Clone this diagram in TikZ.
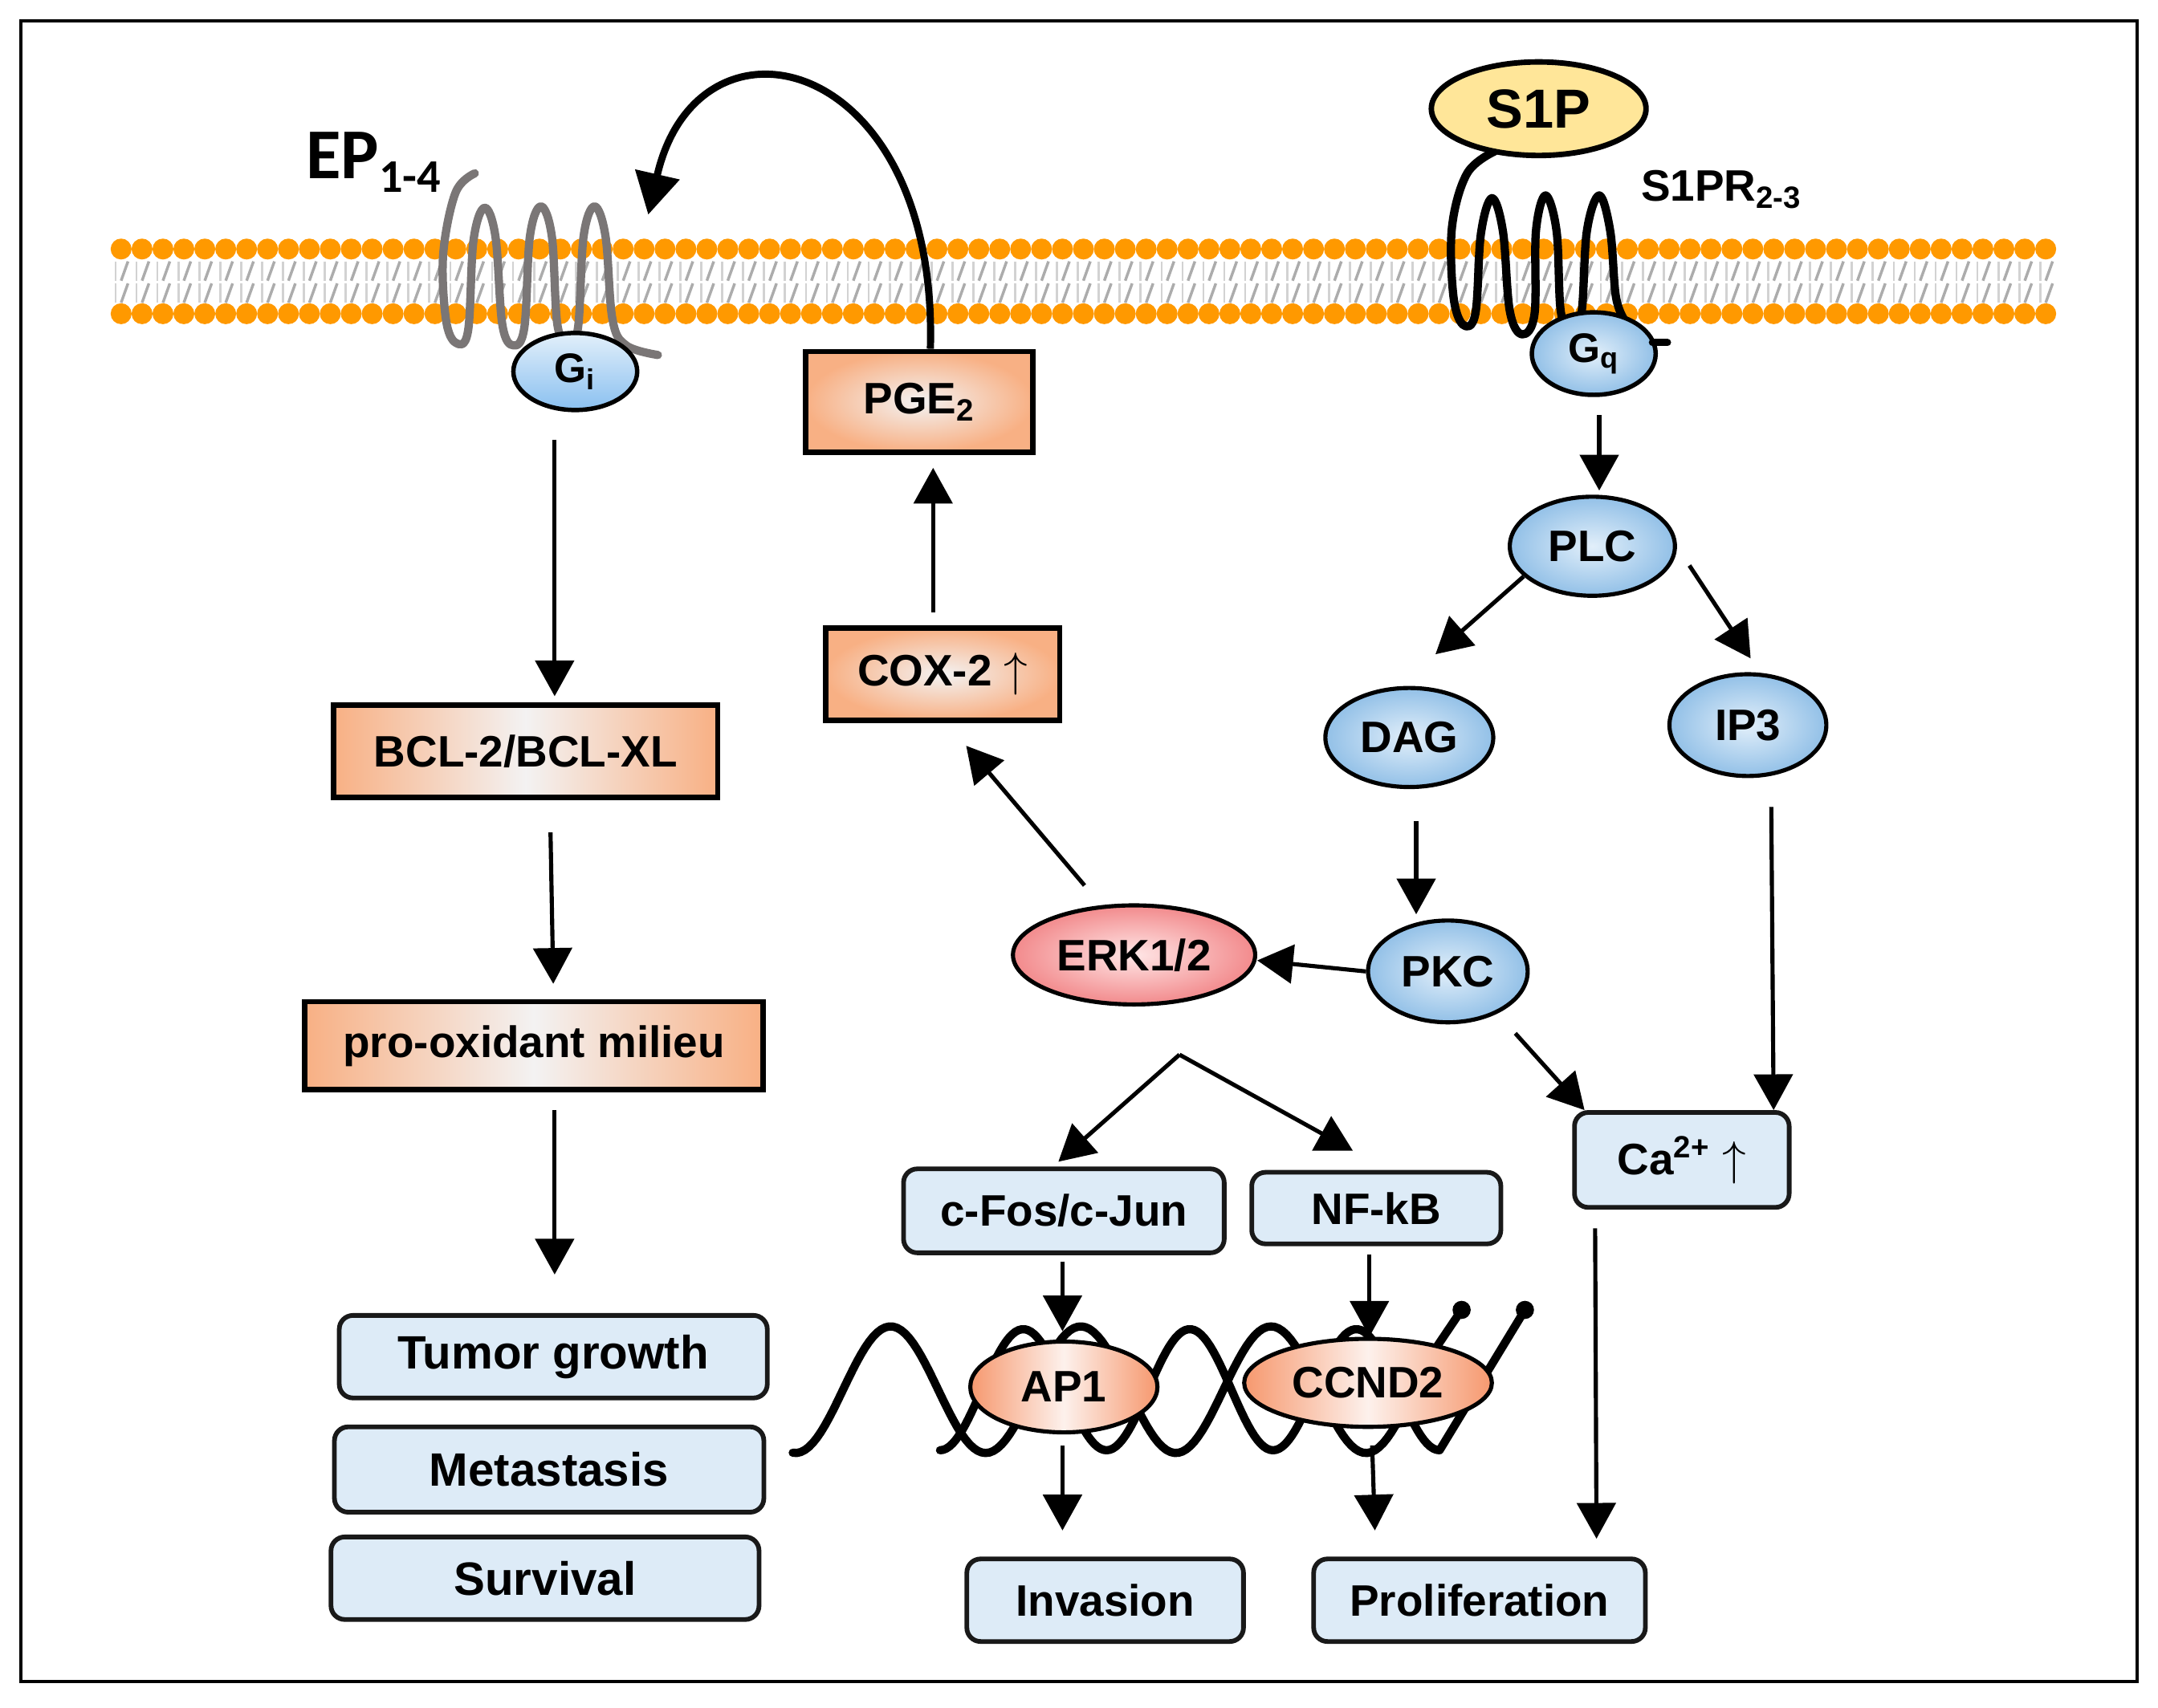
\documentclass[tikz,border=0pt]{standalone}
\usepackage{fontspec}
\setmainfont{Liberation Sans}
\newfontfamily\calibrifont{Carlito}
\usetikzlibrary{calc,arrows.meta,shapes.geometric}

\definecolor{memorange}{RGB}{255,153,0}
\definecolor{boxorange}{RGB}{248,176,132}
\definecolor{boxmid}{RGB}{243,242,242}
\definecolor{cellblue}{RGB}{221,235,247}
\definecolor{ovalblue}{RGB}{146,192,231}
\definecolor{ovalpale}{RGB}{226,239,250}
\definecolor{gpblue}{RGB}{138,192,240}
\definecolor{erkred}{RGB}{242,138,140}
\definecolor{erkpale}{RGB}{255,230,230}
\definecolor{geneorange}{RGB}{246,152,110}
\definecolor{genepale}{RGB}{253,241,236}
\definecolor{s1pyellow}{RGB}{255,230,153}
\definecolor{epgray}{RGB}{122,118,118}

\tikzset{
	arr/.style={line width=1.5pt, -{Triangle[length=13pt, width=14pt]}},
	bigarr/.style={line width=2.6pt, -{Triangle[length=15pt, width=16pt]}},
	labeltext/.style={font=\bfseries\fontsize{16}{19}\selectfont},
	orangebox/.style={labeltext, rectangle, draw=black, line width=2pt, inner sep=0pt, left color=boxorange, right color=boxorange, middle color=boxmid},
	orangeglow/.style={labeltext, rectangle, draw=black, line width=2pt, inner sep=0pt, inner color=boxmid, outer color=boxorange},
	bluebox/.style={labeltext, rectangle, rounded corners=5pt, draw=black!90, line width=1.7pt, inner sep=0pt, fill=cellblue},
	blueoval/.style={labeltext, ellipse, draw=black, line width=1.5pt, inner sep=0pt, inner color=ovalpale, outer color=ovalblue},
	redoval/.style={labeltext, ellipse, draw=black, line width=1.5pt, inner sep=0pt, inner color=erkpale, outer color=erkred},
	geneoval/.style={labeltext, ellipse, draw=black, line width=1.5pt, inner sep=0pt, left color=geneorange, right color=geneorange, middle color=genepale},
	gprot/.style={ellipse, draw=black, line width=1.6pt, inner sep=0pt, font=\bfseries\fontsize{15}{17}\selectfont},
	lipidlight/.style={gray!35, line width=0.8pt},
	lipiddark/.style={gray!65, line width=1pt},
	receptor/.style={line width=3pt, line cap=round, line join=round},
	dna/.style={line width=3pt, line cap=round, line join=round},
}

\begin{document}
\begin{tikzpicture}[x=0.5pt, y=-0.5pt]
		%%%%% FRAME %%%%%
		\useasboundingbox (0,0) rectangle (1568,1241);
		\fill[white] (0,0) rectangle (1568,1241);
		\draw[line width=1.2pt] (15,15) rectangle (1553,1222);
		
		%%%%% MEMBRANE %%%%%
		\foreach \i in {0,...,92}{
			\pgfmathsetmacro{\mx}{88+15.2*\i}
			\draw[lipidlight] (\mx-4,190) -- (\mx-4,204);
			\draw[lipiddark] (\mx+5,190) -- (\mx,204);
			\draw[lipidlight] (\mx-4,206) -- (\mx-4,220);
			\draw[lipiddark] (\mx+5,206) -- (\mx,220);
			\fill[memorange] (\mx,181) circle (3.8pt);
			\fill[memorange] (\mx,228) circle (3.8pt);
		}
		
		%%%%% RECEPTORS %%%%%
		\draw[receptor, draw=epgray] plot[smooth, tension=0.6] coordinates {(345,126) (331,140) (322,185) (324,232) (331,249) (340,241) (344,175) (352,151) (360,172) (365,236) (373,251) (381,238) (385,172) (393,150) (401,172) (405,236) (413,249) (420,238) (424,172) (432,150) (440,172) (445,232) (455,251) (478,258)};
		\draw[receptor] plot[smooth, tension=0.6] coordinates {(1086,110) (1066,126) (1055,165) (1056,215) (1063,236) (1072,228) (1076,170) (1084,144) (1092,168) (1097,226) (1106,243) (1115,228) (1116,168) (1123,142) (1131,168) (1134,226) (1141,238) (1149,228) (1153,168) (1162,142) (1170,168) (1174,215) (1180,232)};
		
		%%%%% DNA %%%%%
		\draw[dna] plot[domain=576:1040, samples=160] (\x, {1010+46*cos((\x-578)/69.1*180)}) -- (1062,952);
		\draw[dna] plot[domain=683:1046, samples=160] (\x, {1010+44*cos((\x-683)/60.5*180)}) -- (1108,952);
		\fill (1062,952) circle (3.3pt);
		\fill (1108,952) circle (3.3pt);
		
		%%%%% NODES %%%%%
		\node[gprot, top color=ovalpale, bottom color=gpblue, minimum width=45pt, minimum height=28pt] (gi) at (418,270) {G\textsubscript{i}};
		\node[gprot, inner color=ovalpale, outer color=ovalblue, minimum width=45pt, minimum height=30pt] (gq) at (1158,257) {G\textsubscript{q}};
		\draw[line width=2.6pt, line cap=round] ($(gq.east)+(-4,-8)$) -- ++(11,0);
		\node[ellipse, draw=black, line width=2pt, fill=s1pyellow, inner sep=0pt, minimum width=78pt, minimum height=34pt, font=\bfseries\fontsize{20}{22}\selectfont] (s1p) at (1118,79) {S1P};
		
		\node[anchor=base west, inner sep=0pt, font=\calibrifont\bfseries\fontsize{26}{26}\selectfont] (eplabel) at (222,130) {EP\raisebox{-5pt}{\fontsize{17}{17}\selectfont 1-4}};
		\node[anchor=base west, inner sep=0pt, font=\bfseries\fontsize{16}{18}\selectfont] (s1prlabel) at (1192,146) {S1PR\textsubscript{2-3}};
		\coordinate (epin) at (471,156);
		
		\node[orangebox, minimum width=139.5pt, minimum height=33.5pt] (bcl) at (382,546) {BCL-2/BCL-XL};
		\node[orangebox, minimum width=166.5pt, minimum height=32pt] (prox) at (388,760) {pro-oxidant milieu};
		\node[bluebox, minimum width=155.5pt, minimum height=30pt, font=\bfseries\fontsize{17}{19}\selectfont] (tumor) at (402,986) {Tumor growth};
		\node[bluebox, minimum width=156pt, minimum height=31pt, font=\bfseries\fontsize{17}{19}\selectfont] (meta) at (399,1068) {Metastasis};
		\node[bluebox, minimum width=155.5pt, minimum height=30pt, font=\bfseries\fontsize{17}{19}\selectfont] (surv) at (396,1147) {Survival};
		
		\node[orangeglow, minimum width=82.5pt, minimum height=36.5pt] (pge) at (668,292) {PGE\textsubscript{2}};
		\node[orangeglow, minimum width=85pt, minimum height=33.5pt] (cox) at (685,490) {COX-2\ {\mdseries$\uparrow$}};
		\node[redoval, minimum width=88pt, minimum height=36pt] (erk) at (824,694) {ERK1/2};
		\node[blueoval, minimum width=58pt, minimum height=37pt] (pkc) at (1052,706) {PKC};
		\node[blueoval, minimum width=61pt, minimum height=36pt] (dag) at (1024,536) {DAG};
		\node[blueoval, minimum width=60pt, minimum height=36pt] (plc) at (1157,397) {PLC};
		\node[blueoval, minimum width=57pt, minimum height=37pt] (ip3) at (1270,527) {IP3};
		\node[bluebox, minimum width=78pt, minimum height=34.5pt] (ca) at (1222,843) {Ca\textsuperscript{2+}\ {\mdseries$\uparrow$}};
		
		\node[bluebox, minimum width=116.5pt, minimum height=30.5pt] (fos) at (773,880) {c-Fos/c-Jun};
		\node[bluebox, minimum width=90.5pt, minimum height=26pt] (nfkb) at (1000,878) {NF-kB};
		\node[geneoval, minimum width=68pt, minimum height=33pt] (ap1) at (773,1008) {AP1};
		\node[geneoval, minimum width=90pt, minimum height=32pt] (ccnd) at (994,1005) {CCND2};
		\node[bluebox, minimum width=100.5pt, minimum height=30pt] (inv) at (803,1163) {Invasion};
		\node[bluebox, minimum width=120.5pt, minimum height=30pt] (prol) at (1075,1163) {Proliferation};
		
		\coordinate (fork) at ($(erk.south)+(33,35)$);
		
		%%%%% ARROWS %%%%%
		\draw[bigarr] ($(pge.north)+(8,0)$) .. controls +(6,-215) and +(36,-158) .. (epin);
		
		\draw[arr] ($(gi.south)+(-15,20)$) -- ($(bcl.north)+(21,-4.5)$);
		\draw[arr] ($(bcl.south)+(18,23.5)$) -- ($(prox.north)+(14,-11)$);
		\draw[arr] ($(prox.south)+(15,13)$) -- ($(tumor.north)+(1,-28)$);
		
		\draw[arr] ($(cox.north)+(-7,-9.5)$) -- ($(pge.south)+(10,9.5)$);
		\draw[arr] ($(erk.north)+(-36,-13)$) -- ($(cox.south)+(17,16.5)$);
		\draw[arr] (pkc.west) -- ($(erk.east)+(0,4)$);
		
		\draw[arr] ($(gq.south)+(4,13)$) -- ($(plc.north)+(5,-3)$);
		\draw[arr] ($(plc.center)+(-50,22)$) -- ($(dag.north)+(19,-23)$);
		\draw[arr] ($(plc.east)+(9,14)$) -- ($(ip3.north)+(2,-10)$);
		\draw[arr] ($(dag.south)+(5,23)$) -- ($(pkc.north)+(-23,-3)$);
		\draw[arr] ($(ip3.south)+(17,21)$) -- ($(ca.north east)+(-13,0)$);
		\draw[arr] ($(pkc.center)+(49,45)$) -- ($(ca.north west)+(9,0)$);
		
		\draw[arr] (fork) -- ($(fos.north)+(-4,-3.5)$);
		\draw[arr] (fork) -- ($(nfkb.north)+(-17,-14)$);
		\draw[arr] ($(fos.south)+(-1,4.5)$) -- ($(ap1.north)+(-1,-6)$);
		\draw[arr] ($(nfkb.south)+(-5,6)$) -- ($(ccnd.north)+(1,0)$);
		\draw[arr] ($(ap1.south)+(-1,8)$) -- ($(inv.north)+(-31,-19)$);
		\draw[arr] ($(ccnd.south)+(3,12)$) -- ($(prol.north)+(-76,-19)$);
		\draw[arr] ($(ca.south)+(-63,13.5)$) -- ($(prol.north)+(85,-13)$);
		
		%%%%% END %%%%%
	\end{tikzpicture}
\end{document}
